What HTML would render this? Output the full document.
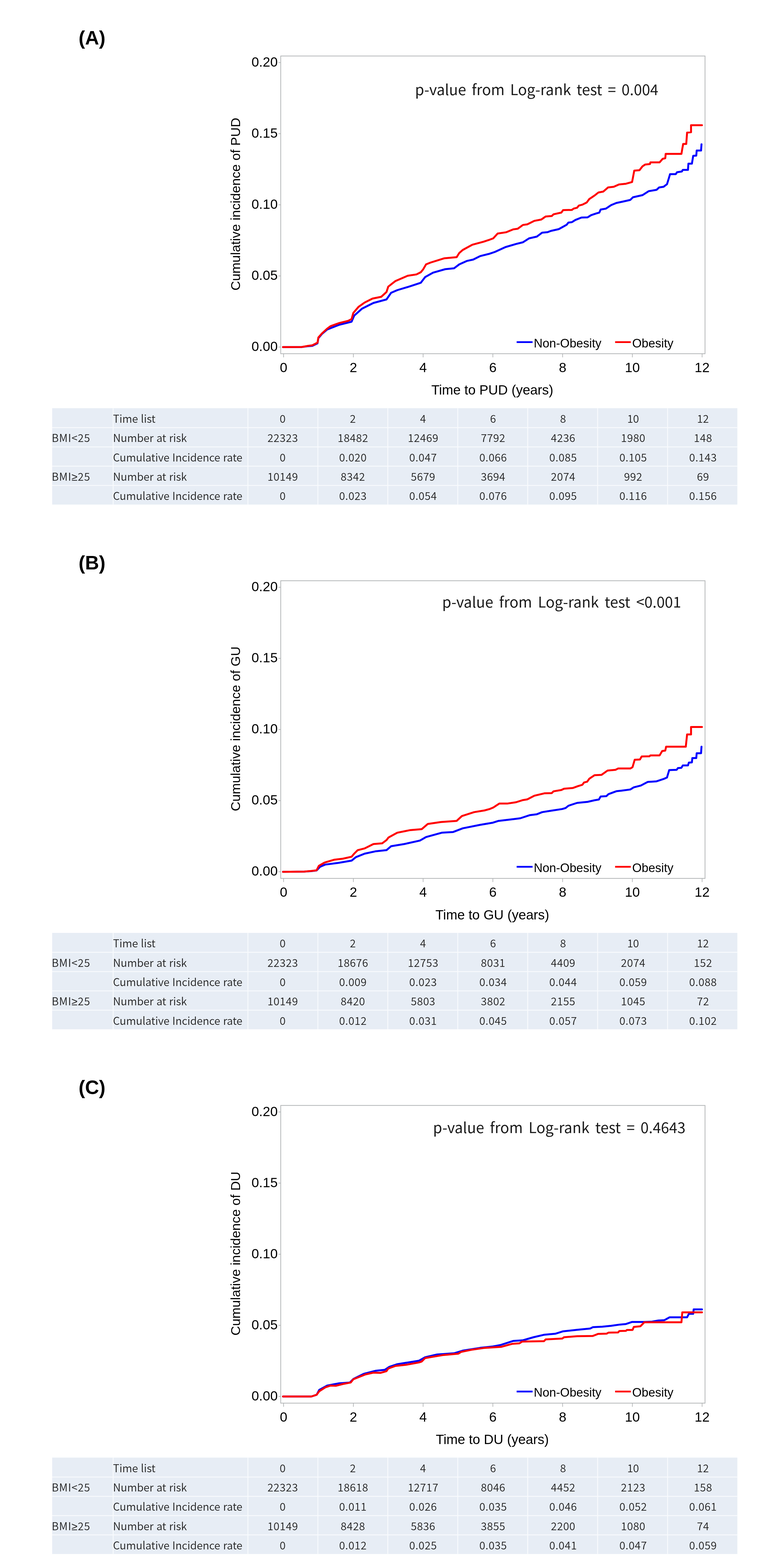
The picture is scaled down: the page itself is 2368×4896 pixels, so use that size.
<!DOCTYPE html><html><head><meta charset="utf-8"><title>Cumulative incidence</title><style>html,body{margin:0;padding:0;background:#fff;}svg{display:block;}</style></head><body>
<svg width="2368" height="4896" viewBox="0 0 2368 4896">
<rect width="2368" height="4896" fill="#fff"/>
<g transform="translate(0,0)">
<text x="245.5" y="139.3" font-family="'Liberation Sans', Arial, sans-serif" font-weight="bold" font-size="60.5" fill="#000">(A)</text>
<rect x="877" y="174.9" width="1325.5" height="929.5" fill="none" stroke="#b4b7b8" stroke-width="2.4"/>
<line x1="870" y1="195.3" x2="877" y2="195.3" stroke="#aeb1b2" stroke-width="2"/>
<text x="867.5" y="207.8" text-anchor="end" font-family="'Liberation Sans', Arial, sans-serif" font-size="42" fill="#000">0.20</text>
<line x1="870" y1="417.4" x2="877" y2="417.4" stroke="#aeb1b2" stroke-width="2"/>
<text x="867.5" y="429.9" text-anchor="end" font-family="'Liberation Sans', Arial, sans-serif" font-size="42" fill="#000">0.15</text>
<line x1="870" y1="639.5" x2="877" y2="639.5" stroke="#aeb1b2" stroke-width="2"/>
<text x="867.5" y="652" text-anchor="end" font-family="'Liberation Sans', Arial, sans-serif" font-size="42" fill="#000">0.10</text>
<line x1="870" y1="861.6" x2="877" y2="861.6" stroke="#aeb1b2" stroke-width="2"/>
<text x="867.5" y="874.1" text-anchor="end" font-family="'Liberation Sans', Arial, sans-serif" font-size="42" fill="#000">0.05</text>
<line x1="870" y1="1083.6" x2="877" y2="1083.6" stroke="#aeb1b2" stroke-width="2"/>
<text x="867.5" y="1096.1" text-anchor="end" font-family="'Liberation Sans', Arial, sans-serif" font-size="42" fill="#000">0.00</text>
<line x1="886" y1="1104.4" x2="886" y2="1115.8" stroke="#aeb1b2" stroke-width="2"/>
<text x="886" y="1162" text-anchor="middle" font-family="'Liberation Sans', Arial, sans-serif" font-size="42" fill="#000">0</text>
<line x1="1103.9" y1="1104.4" x2="1103.9" y2="1115.8" stroke="#aeb1b2" stroke-width="2"/>
<text x="1103.9" y="1162" text-anchor="middle" font-family="'Liberation Sans', Arial, sans-serif" font-size="42" fill="#000">2</text>
<line x1="1321.8" y1="1104.4" x2="1321.8" y2="1115.8" stroke="#aeb1b2" stroke-width="2"/>
<text x="1321.8" y="1162" text-anchor="middle" font-family="'Liberation Sans', Arial, sans-serif" font-size="42" fill="#000">4</text>
<line x1="1539.7" y1="1104.4" x2="1539.7" y2="1115.8" stroke="#aeb1b2" stroke-width="2"/>
<text x="1539.7" y="1162" text-anchor="middle" font-family="'Liberation Sans', Arial, sans-serif" font-size="42" fill="#000">6</text>
<line x1="1757.6" y1="1104.4" x2="1757.6" y2="1115.8" stroke="#aeb1b2" stroke-width="2"/>
<text x="1757.6" y="1162" text-anchor="middle" font-family="'Liberation Sans', Arial, sans-serif" font-size="42" fill="#000">8</text>
<line x1="1975.5" y1="1104.4" x2="1975.5" y2="1115.8" stroke="#aeb1b2" stroke-width="2"/>
<text x="1975.5" y="1162" text-anchor="middle" font-family="'Liberation Sans', Arial, sans-serif" font-size="42" fill="#000">10</text>
<line x1="2193.4" y1="1104.4" x2="2193.4" y2="1115.8" stroke="#aeb1b2" stroke-width="2"/>
<text x="2193.4" y="1162" text-anchor="middle" font-family="'Liberation Sans', Arial, sans-serif" font-size="42" fill="#000">12</text>
<text x="1538" y="1232.4" text-anchor="middle" font-family="'Liberation Sans', Arial, sans-serif" font-size="42" fill="#000">Time to PUD (years)</text>
<text transform="translate(749.8,637.4) rotate(-90)" x="0" y="0" text-anchor="middle" font-family="'Liberation Sans', Arial, sans-serif" font-size="41.5" fill="#000">Cumulative incidence of PUD</text>
<line x1="1614" y1="1068.2" x2="1663.8" y2="1068.2" stroke="#0000ff" stroke-width="5.5"/>
<text x="1667.5" y="1084.5" font-family="'Liberation Sans', Arial, sans-serif" font-size="38" fill="#000">Non-Obesity</text>
<line x1="1921.6" y1="1068.2" x2="1970.7" y2="1068.2" stroke="#ff0000" stroke-width="5.5"/>
<text x="1975" y="1084.5" font-family="'Liberation Sans', Arial, sans-serif" font-size="38" fill="#000">Obesity</text>
<rect x="163" y="1274.5" width="2140.5" height="301" fill="#e7edf5"/>
<rect x="163" y="1333.8" width="2140.5" height="2.8" fill="#f8fafd"/>
<rect x="163" y="1394" width="2140.5" height="2.8" fill="#f8fafd"/>
<rect x="163" y="1454.2" width="2140.5" height="2.8" fill="#f8fafd"/>
<rect x="163" y="1514.4" width="2140.5" height="2.8" fill="#f8fafd"/>
<rect x="352.1" y="1274.5" width="2.8" height="301" fill="#f8fafd"/>
<rect x="773.1" y="1274.5" width="2.8" height="301" fill="#f8fafd"/>
<rect x="991.6" y="1274.5" width="2.8" height="301" fill="#f8fafd"/>
<rect x="1210.1" y="1274.5" width="2.8" height="301" fill="#f8fafd"/>
<rect x="1428.6" y="1274.5" width="2.8" height="301" fill="#f8fafd"/>
<rect x="1647.1" y="1274.5" width="2.8" height="301" fill="#f8fafd"/>
<rect x="1865.6" y="1274.5" width="2.8" height="301" fill="#f8fafd"/>
<rect x="2084.1" y="1274.5" width="2.8" height="301" fill="#f8fafd"/>
<text x="353" y="1319.8" font-family="'Noto Sans CJK KR', 'Liberation Sans', sans-serif" font-size="33.5" font-weight="350" fill="#222" word-spacing="1.5">Time list</text>
<text x="353" y="1380.2" font-family="'Noto Sans CJK KR', 'Liberation Sans', sans-serif" font-size="33.5" font-weight="350" fill="#222" word-spacing="1.5">Number at risk</text>
<text x="353" y="1440.6" font-family="'Noto Sans CJK KR', 'Liberation Sans', sans-serif" font-size="33.5" font-weight="350" fill="#222" word-spacing="1.5">Cumulative Incidence rate</text>
<text x="353" y="1501" font-family="'Noto Sans CJK KR', 'Liberation Sans', sans-serif" font-size="33.5" font-weight="350" fill="#222" word-spacing="1.5">Number at risk</text>
<text x="353" y="1561.4" font-family="'Noto Sans CJK KR', 'Liberation Sans', sans-serif" font-size="33.5" font-weight="350" fill="#222" word-spacing="1.5">Cumulative Incidence rate</text>
<text x="161.5" y="1380.2" font-family="'Noto Sans CJK KR', 'Liberation Sans', sans-serif" font-size="33.5" font-weight="350" fill="#222" letter-spacing="1.2">BMI&lt;25</text>
<text x="161.5" y="1501" font-family="'Noto Sans CJK KR', 'Liberation Sans', sans-serif" font-size="33.5" font-weight="350" fill="#222" letter-spacing="1.2">BMI<tspan font-family="Liberation Sans, sans-serif">&#8805;</tspan>25</text>
<text x="883" y="1319.8" text-anchor="middle" font-family="'Noto Sans CJK KR', 'Liberation Sans', sans-serif" font-size="33.5" font-weight="350" fill="#222">0</text>
<text x="883.4" y="1380.2" text-anchor="middle" font-family="'Noto Sans CJK KR', 'Liberation Sans', sans-serif" font-size="33.5" font-weight="350" fill="#222" letter-spacing="0.8">22323</text>
<text x="883.4" y="1440.6" text-anchor="middle" font-family="'Noto Sans CJK KR', 'Liberation Sans', sans-serif" font-size="33.5" font-weight="350" fill="#222" letter-spacing="0.8">0</text>
<text x="883.4" y="1501" text-anchor="middle" font-family="'Noto Sans CJK KR', 'Liberation Sans', sans-serif" font-size="33.5" font-weight="350" fill="#222" letter-spacing="0.8">10149</text>
<text x="883.4" y="1561.4" text-anchor="middle" font-family="'Noto Sans CJK KR', 'Liberation Sans', sans-serif" font-size="33.5" font-weight="350" fill="#222" letter-spacing="0.8">0</text>
<text x="1102.3" y="1319.8" text-anchor="middle" font-family="'Noto Sans CJK KR', 'Liberation Sans', sans-serif" font-size="33.5" font-weight="350" fill="#222">2</text>
<text x="1102.7" y="1380.2" text-anchor="middle" font-family="'Noto Sans CJK KR', 'Liberation Sans', sans-serif" font-size="33.5" font-weight="350" fill="#222" letter-spacing="0.8">18482</text>
<text x="1102.7" y="1440.6" text-anchor="middle" font-family="'Noto Sans CJK KR', 'Liberation Sans', sans-serif" font-size="33.5" font-weight="350" fill="#222" letter-spacing="0.8">0.020</text>
<text x="1102.7" y="1501" text-anchor="middle" font-family="'Noto Sans CJK KR', 'Liberation Sans', sans-serif" font-size="33.5" font-weight="350" fill="#222" letter-spacing="0.8">8342</text>
<text x="1102.7" y="1561.4" text-anchor="middle" font-family="'Noto Sans CJK KR', 'Liberation Sans', sans-serif" font-size="33.5" font-weight="350" fill="#222" letter-spacing="0.8">0.023</text>
<text x="1321.5" y="1319.8" text-anchor="middle" font-family="'Noto Sans CJK KR', 'Liberation Sans', sans-serif" font-size="33.5" font-weight="350" fill="#222">4</text>
<text x="1321.9" y="1380.2" text-anchor="middle" font-family="'Noto Sans CJK KR', 'Liberation Sans', sans-serif" font-size="33.5" font-weight="350" fill="#222" letter-spacing="0.8">12469</text>
<text x="1321.9" y="1440.6" text-anchor="middle" font-family="'Noto Sans CJK KR', 'Liberation Sans', sans-serif" font-size="33.5" font-weight="350" fill="#222" letter-spacing="0.8">0.047</text>
<text x="1321.9" y="1501" text-anchor="middle" font-family="'Noto Sans CJK KR', 'Liberation Sans', sans-serif" font-size="33.5" font-weight="350" fill="#222" letter-spacing="0.8">5679</text>
<text x="1321.9" y="1561.4" text-anchor="middle" font-family="'Noto Sans CJK KR', 'Liberation Sans', sans-serif" font-size="33.5" font-weight="350" fill="#222" letter-spacing="0.8">0.054</text>
<text x="1540.3" y="1319.8" text-anchor="middle" font-family="'Noto Sans CJK KR', 'Liberation Sans', sans-serif" font-size="33.5" font-weight="350" fill="#222">6</text>
<text x="1540.7" y="1380.2" text-anchor="middle" font-family="'Noto Sans CJK KR', 'Liberation Sans', sans-serif" font-size="33.5" font-weight="350" fill="#222" letter-spacing="0.8">7792</text>
<text x="1540.7" y="1440.6" text-anchor="middle" font-family="'Noto Sans CJK KR', 'Liberation Sans', sans-serif" font-size="33.5" font-weight="350" fill="#222" letter-spacing="0.8">0.066</text>
<text x="1540.7" y="1501" text-anchor="middle" font-family="'Noto Sans CJK KR', 'Liberation Sans', sans-serif" font-size="33.5" font-weight="350" fill="#222" letter-spacing="0.8">3694</text>
<text x="1540.7" y="1561.4" text-anchor="middle" font-family="'Noto Sans CJK KR', 'Liberation Sans', sans-serif" font-size="33.5" font-weight="350" fill="#222" letter-spacing="0.8">0.076</text>
<text x="1759" y="1319.8" text-anchor="middle" font-family="'Noto Sans CJK KR', 'Liberation Sans', sans-serif" font-size="33.5" font-weight="350" fill="#222">8</text>
<text x="1759.4" y="1380.2" text-anchor="middle" font-family="'Noto Sans CJK KR', 'Liberation Sans', sans-serif" font-size="33.5" font-weight="350" fill="#222" letter-spacing="0.8">4236</text>
<text x="1759.4" y="1440.6" text-anchor="middle" font-family="'Noto Sans CJK KR', 'Liberation Sans', sans-serif" font-size="33.5" font-weight="350" fill="#222" letter-spacing="0.8">0.085</text>
<text x="1759.4" y="1501" text-anchor="middle" font-family="'Noto Sans CJK KR', 'Liberation Sans', sans-serif" font-size="33.5" font-weight="350" fill="#222" letter-spacing="0.8">2074</text>
<text x="1759.4" y="1561.4" text-anchor="middle" font-family="'Noto Sans CJK KR', 'Liberation Sans', sans-serif" font-size="33.5" font-weight="350" fill="#222" letter-spacing="0.8">0.095</text>
<text x="1977.8" y="1319.8" text-anchor="middle" font-family="'Noto Sans CJK KR', 'Liberation Sans', sans-serif" font-size="33.5" font-weight="350" fill="#222">10</text>
<text x="1978.2" y="1380.2" text-anchor="middle" font-family="'Noto Sans CJK KR', 'Liberation Sans', sans-serif" font-size="33.5" font-weight="350" fill="#222" letter-spacing="0.8">1980</text>
<text x="1978.2" y="1440.6" text-anchor="middle" font-family="'Noto Sans CJK KR', 'Liberation Sans', sans-serif" font-size="33.5" font-weight="350" fill="#222" letter-spacing="0.8">0.105</text>
<text x="1978.2" y="1501" text-anchor="middle" font-family="'Noto Sans CJK KR', 'Liberation Sans', sans-serif" font-size="33.5" font-weight="350" fill="#222" letter-spacing="0.8">992</text>
<text x="1978.2" y="1561.4" text-anchor="middle" font-family="'Noto Sans CJK KR', 'Liberation Sans', sans-serif" font-size="33.5" font-weight="350" fill="#222" letter-spacing="0.8">0.116</text>
<text x="2196" y="1319.8" text-anchor="middle" font-family="'Noto Sans CJK KR', 'Liberation Sans', sans-serif" font-size="33.5" font-weight="350" fill="#222">12</text>
<text x="2196.4" y="1380.2" text-anchor="middle" font-family="'Noto Sans CJK KR', 'Liberation Sans', sans-serif" font-size="33.5" font-weight="350" fill="#222" letter-spacing="0.8">148</text>
<text x="2196.4" y="1440.6" text-anchor="middle" font-family="'Noto Sans CJK KR', 'Liberation Sans', sans-serif" font-size="33.5" font-weight="350" fill="#222" letter-spacing="0.8">0.143</text>
<text x="2196.4" y="1501" text-anchor="middle" font-family="'Noto Sans CJK KR', 'Liberation Sans', sans-serif" font-size="33.5" font-weight="350" fill="#222" letter-spacing="0.8">69</text>
<text x="2196.4" y="1561.4" text-anchor="middle" font-family="'Noto Sans CJK KR', 'Liberation Sans', sans-serif" font-size="33.5" font-weight="350" fill="#222" letter-spacing="0.8">0.156</text>
</g>
<text x="1296.5" y="297.4" font-family="'Noto Sans CJK KR', 'Liberation Sans', sans-serif" font-size="46" font-weight="400" fill="#1a1a1a" word-spacing="7.1">p-value from Log-rank test = 0.004</text>
<polyline points="884,1083.7 942.8,1083.5 961.8,1081 975.5,1080 991.9,1072 994.6,1056 1005.5,1043 1021.9,1029 1060,1014 1098.3,1004.6 1106.5,985.5 1131,963.7 1166.5,946 1207.4,935 1221.8,914.2 1241,906 1281.9,893.7 1314.6,882.8 1328.2,865.1 1352.8,851.4 1391,840.5 1418.3,837.8 1434.7,825.5 1459.2,814.6 1478.3,810.5 1500.1,799.6 1527.4,792.8 1546.4,786.5 1579.1,771.5 1611.9,761.9 1633.7,756.5 1652.8,744.2 1677.3,738.7 1693.7,726.4 1710.1,725.1 1721,721 1745.5,715.5 1770.1,701.9 1775.6,695.1 1786.5,693.7 1797.4,686.9 1816.5,679.2 1835.6,678.7 1846.5,671.9 1862.9,666.4 1872.3,663.8 1876.4,654.2 1892.7,651.5 1909.1,640.6 1925.5,633.8 1944.6,629.7 1969.1,624.2 1977.3,616 2007.3,609.2 2026.4,596.9 2051,592.8 2059.2,585.2 2072.8,583.3 2083.7,575.1 2089.2,557.4 2093.3,543.7 2111,543.7 2115.1,537.7 2130.1,535.5 2132.9,530.6 2149.2,530.6 2150.6,511 2161.5,511 2165.6,486.4 2175.1,485.9 2176.5,470 2190.1,470 2191.5,450.4" fill="none" stroke="#0000ff" stroke-width="6" stroke-linejoin="round" stroke-linecap="round"/>
<polyline points="884,1083.7 942.8,1083.5 961.8,1080 975.5,1078.3 991.9,1070 994.6,1053.7 1005.5,1041.4 1021.9,1026.4 1032.8,1018.3 1060,1008.7 1087.4,1001.9 1098.3,996.4 1103.7,977.3 1120,958.2 1139.2,944.6 1163.8,932.3 1191,926.8 1207.4,911.8 1212.9,895 1235.5,877.4 1273.7,861 1301,856.9 1314.6,850 1321.4,841.9 1331,825.5 1344.6,820 1388.3,806.4 1426.5,803.1 1434.7,790 1445.6,780.5 1475.6,764.1 1511,754.6 1530,748.3 1540.9,744.2 1554.6,729.2 1581.8,725.1 1603.7,716.1 1617.3,714.2 1633.7,702.4 1647.3,700.5 1669.2,689.6 1691,685.5 1704.6,676 1723.7,674.6 1729.2,669.1 1753.7,663.7 1759.2,656 1786.5,655.5 1792,651.4 1802.9,648.7 1808.3,641.9 1819.2,639.1 1832.9,632.3 1841,621.4 1857.4,610.5 1869.5,601 1884.6,598.3 1899.6,585.2 1917.3,583.3 1933.7,575.9 1955.5,573.7 1974.6,568.3 1977.3,554.6 1981.4,532.8 1997.8,531.4 2007.3,519.2 2015.5,513.7 2030.5,512.3 2031.9,506.9 2060.5,506.9 2070.1,496 2078.3,494 2079.6,480.4 2128.8,480.4 2131.5,464.6 2134.2,449.6 2143.8,449.6 2146.5,414.1 2158.8,412.7 2158.8,390.9 2192.9,390.9" fill="none" stroke="#ff0000" stroke-width="6" stroke-linejoin="round" stroke-linecap="round"/>
<g transform="translate(0,1638.4)">
<text x="245.5" y="139.3" font-family="'Liberation Sans', Arial, sans-serif" font-weight="bold" font-size="60.5" fill="#000">(B)</text>
<rect x="877" y="174.9" width="1325.5" height="929.5" fill="none" stroke="#b4b7b8" stroke-width="2.4"/>
<line x1="870" y1="195.3" x2="877" y2="195.3" stroke="#aeb1b2" stroke-width="2"/>
<text x="867.5" y="207.8" text-anchor="end" font-family="'Liberation Sans', Arial, sans-serif" font-size="42" fill="#000">0.20</text>
<line x1="870" y1="417.4" x2="877" y2="417.4" stroke="#aeb1b2" stroke-width="2"/>
<text x="867.5" y="429.9" text-anchor="end" font-family="'Liberation Sans', Arial, sans-serif" font-size="42" fill="#000">0.15</text>
<line x1="870" y1="639.5" x2="877" y2="639.5" stroke="#aeb1b2" stroke-width="2"/>
<text x="867.5" y="652" text-anchor="end" font-family="'Liberation Sans', Arial, sans-serif" font-size="42" fill="#000">0.10</text>
<line x1="870" y1="861.6" x2="877" y2="861.6" stroke="#aeb1b2" stroke-width="2"/>
<text x="867.5" y="874.1" text-anchor="end" font-family="'Liberation Sans', Arial, sans-serif" font-size="42" fill="#000">0.05</text>
<line x1="870" y1="1083.6" x2="877" y2="1083.6" stroke="#aeb1b2" stroke-width="2"/>
<text x="867.5" y="1096.1" text-anchor="end" font-family="'Liberation Sans', Arial, sans-serif" font-size="42" fill="#000">0.00</text>
<line x1="886" y1="1104.4" x2="886" y2="1115.8" stroke="#aeb1b2" stroke-width="2"/>
<text x="886" y="1162" text-anchor="middle" font-family="'Liberation Sans', Arial, sans-serif" font-size="42" fill="#000">0</text>
<line x1="1103.9" y1="1104.4" x2="1103.9" y2="1115.8" stroke="#aeb1b2" stroke-width="2"/>
<text x="1103.9" y="1162" text-anchor="middle" font-family="'Liberation Sans', Arial, sans-serif" font-size="42" fill="#000">2</text>
<line x1="1321.8" y1="1104.4" x2="1321.8" y2="1115.8" stroke="#aeb1b2" stroke-width="2"/>
<text x="1321.8" y="1162" text-anchor="middle" font-family="'Liberation Sans', Arial, sans-serif" font-size="42" fill="#000">4</text>
<line x1="1539.7" y1="1104.4" x2="1539.7" y2="1115.8" stroke="#aeb1b2" stroke-width="2"/>
<text x="1539.7" y="1162" text-anchor="middle" font-family="'Liberation Sans', Arial, sans-serif" font-size="42" fill="#000">6</text>
<line x1="1757.6" y1="1104.4" x2="1757.6" y2="1115.8" stroke="#aeb1b2" stroke-width="2"/>
<text x="1757.6" y="1162" text-anchor="middle" font-family="'Liberation Sans', Arial, sans-serif" font-size="42" fill="#000">8</text>
<line x1="1975.5" y1="1104.4" x2="1975.5" y2="1115.8" stroke="#aeb1b2" stroke-width="2"/>
<text x="1975.5" y="1162" text-anchor="middle" font-family="'Liberation Sans', Arial, sans-serif" font-size="42" fill="#000">10</text>
<line x1="2193.4" y1="1104.4" x2="2193.4" y2="1115.8" stroke="#aeb1b2" stroke-width="2"/>
<text x="2193.4" y="1162" text-anchor="middle" font-family="'Liberation Sans', Arial, sans-serif" font-size="42" fill="#000">12</text>
<text x="1538" y="1232.4" text-anchor="middle" font-family="'Liberation Sans', Arial, sans-serif" font-size="42" fill="#000">Time to GU (years)</text>
<text transform="translate(749.8,637.4) rotate(-90)" x="0" y="0" text-anchor="middle" font-family="'Liberation Sans', Arial, sans-serif" font-size="41.5" fill="#000">Cumulative incidence of GU</text>
<line x1="1614" y1="1068.2" x2="1663.8" y2="1068.2" stroke="#0000ff" stroke-width="5.5"/>
<text x="1667.5" y="1084.5" font-family="'Liberation Sans', Arial, sans-serif" font-size="38" fill="#000">Non-Obesity</text>
<line x1="1921.6" y1="1068.2" x2="1970.7" y2="1068.2" stroke="#ff0000" stroke-width="5.5"/>
<text x="1975" y="1084.5" font-family="'Liberation Sans', Arial, sans-serif" font-size="38" fill="#000">Obesity</text>
<rect x="163" y="1274.5" width="2140.5" height="301" fill="#e7edf5"/>
<rect x="163" y="1333.8" width="2140.5" height="2.8" fill="#f8fafd"/>
<rect x="163" y="1394" width="2140.5" height="2.8" fill="#f8fafd"/>
<rect x="163" y="1454.2" width="2140.5" height="2.8" fill="#f8fafd"/>
<rect x="163" y="1514.4" width="2140.5" height="2.8" fill="#f8fafd"/>
<rect x="352.1" y="1274.5" width="2.8" height="301" fill="#f8fafd"/>
<rect x="773.1" y="1274.5" width="2.8" height="301" fill="#f8fafd"/>
<rect x="991.6" y="1274.5" width="2.8" height="301" fill="#f8fafd"/>
<rect x="1210.1" y="1274.5" width="2.8" height="301" fill="#f8fafd"/>
<rect x="1428.6" y="1274.5" width="2.8" height="301" fill="#f8fafd"/>
<rect x="1647.1" y="1274.5" width="2.8" height="301" fill="#f8fafd"/>
<rect x="1865.6" y="1274.5" width="2.8" height="301" fill="#f8fafd"/>
<rect x="2084.1" y="1274.5" width="2.8" height="301" fill="#f8fafd"/>
<text x="353" y="1319.8" font-family="'Noto Sans CJK KR', 'Liberation Sans', sans-serif" font-size="33.5" font-weight="350" fill="#222" word-spacing="1.5">Time list</text>
<text x="353" y="1380.2" font-family="'Noto Sans CJK KR', 'Liberation Sans', sans-serif" font-size="33.5" font-weight="350" fill="#222" word-spacing="1.5">Number at risk</text>
<text x="353" y="1440.6" font-family="'Noto Sans CJK KR', 'Liberation Sans', sans-serif" font-size="33.5" font-weight="350" fill="#222" word-spacing="1.5">Cumulative Incidence rate</text>
<text x="353" y="1501" font-family="'Noto Sans CJK KR', 'Liberation Sans', sans-serif" font-size="33.5" font-weight="350" fill="#222" word-spacing="1.5">Number at risk</text>
<text x="353" y="1561.4" font-family="'Noto Sans CJK KR', 'Liberation Sans', sans-serif" font-size="33.5" font-weight="350" fill="#222" word-spacing="1.5">Cumulative Incidence rate</text>
<text x="161.5" y="1380.2" font-family="'Noto Sans CJK KR', 'Liberation Sans', sans-serif" font-size="33.5" font-weight="350" fill="#222" letter-spacing="1.2">BMI&lt;25</text>
<text x="161.5" y="1501" font-family="'Noto Sans CJK KR', 'Liberation Sans', sans-serif" font-size="33.5" font-weight="350" fill="#222" letter-spacing="1.2">BMI<tspan font-family="Liberation Sans, sans-serif">&#8805;</tspan>25</text>
<text x="883" y="1319.8" text-anchor="middle" font-family="'Noto Sans CJK KR', 'Liberation Sans', sans-serif" font-size="33.5" font-weight="350" fill="#222">0</text>
<text x="883.4" y="1380.2" text-anchor="middle" font-family="'Noto Sans CJK KR', 'Liberation Sans', sans-serif" font-size="33.5" font-weight="350" fill="#222" letter-spacing="0.8">22323</text>
<text x="883.4" y="1440.6" text-anchor="middle" font-family="'Noto Sans CJK KR', 'Liberation Sans', sans-serif" font-size="33.5" font-weight="350" fill="#222" letter-spacing="0.8">0</text>
<text x="883.4" y="1501" text-anchor="middle" font-family="'Noto Sans CJK KR', 'Liberation Sans', sans-serif" font-size="33.5" font-weight="350" fill="#222" letter-spacing="0.8">10149</text>
<text x="883.4" y="1561.4" text-anchor="middle" font-family="'Noto Sans CJK KR', 'Liberation Sans', sans-serif" font-size="33.5" font-weight="350" fill="#222" letter-spacing="0.8">0</text>
<text x="1102.3" y="1319.8" text-anchor="middle" font-family="'Noto Sans CJK KR', 'Liberation Sans', sans-serif" font-size="33.5" font-weight="350" fill="#222">2</text>
<text x="1102.7" y="1380.2" text-anchor="middle" font-family="'Noto Sans CJK KR', 'Liberation Sans', sans-serif" font-size="33.5" font-weight="350" fill="#222" letter-spacing="0.8">18676</text>
<text x="1102.7" y="1440.6" text-anchor="middle" font-family="'Noto Sans CJK KR', 'Liberation Sans', sans-serif" font-size="33.5" font-weight="350" fill="#222" letter-spacing="0.8">0.009</text>
<text x="1102.7" y="1501" text-anchor="middle" font-family="'Noto Sans CJK KR', 'Liberation Sans', sans-serif" font-size="33.5" font-weight="350" fill="#222" letter-spacing="0.8">8420</text>
<text x="1102.7" y="1561.4" text-anchor="middle" font-family="'Noto Sans CJK KR', 'Liberation Sans', sans-serif" font-size="33.5" font-weight="350" fill="#222" letter-spacing="0.8">0.012</text>
<text x="1321.5" y="1319.8" text-anchor="middle" font-family="'Noto Sans CJK KR', 'Liberation Sans', sans-serif" font-size="33.5" font-weight="350" fill="#222">4</text>
<text x="1321.9" y="1380.2" text-anchor="middle" font-family="'Noto Sans CJK KR', 'Liberation Sans', sans-serif" font-size="33.5" font-weight="350" fill="#222" letter-spacing="0.8">12753</text>
<text x="1321.9" y="1440.6" text-anchor="middle" font-family="'Noto Sans CJK KR', 'Liberation Sans', sans-serif" font-size="33.5" font-weight="350" fill="#222" letter-spacing="0.8">0.023</text>
<text x="1321.9" y="1501" text-anchor="middle" font-family="'Noto Sans CJK KR', 'Liberation Sans', sans-serif" font-size="33.5" font-weight="350" fill="#222" letter-spacing="0.8">5803</text>
<text x="1321.9" y="1561.4" text-anchor="middle" font-family="'Noto Sans CJK KR', 'Liberation Sans', sans-serif" font-size="33.5" font-weight="350" fill="#222" letter-spacing="0.8">0.031</text>
<text x="1540.3" y="1319.8" text-anchor="middle" font-family="'Noto Sans CJK KR', 'Liberation Sans', sans-serif" font-size="33.5" font-weight="350" fill="#222">6</text>
<text x="1540.7" y="1380.2" text-anchor="middle" font-family="'Noto Sans CJK KR', 'Liberation Sans', sans-serif" font-size="33.5" font-weight="350" fill="#222" letter-spacing="0.8">8031</text>
<text x="1540.7" y="1440.6" text-anchor="middle" font-family="'Noto Sans CJK KR', 'Liberation Sans', sans-serif" font-size="33.5" font-weight="350" fill="#222" letter-spacing="0.8">0.034</text>
<text x="1540.7" y="1501" text-anchor="middle" font-family="'Noto Sans CJK KR', 'Liberation Sans', sans-serif" font-size="33.5" font-weight="350" fill="#222" letter-spacing="0.8">3802</text>
<text x="1540.7" y="1561.4" text-anchor="middle" font-family="'Noto Sans CJK KR', 'Liberation Sans', sans-serif" font-size="33.5" font-weight="350" fill="#222" letter-spacing="0.8">0.045</text>
<text x="1759" y="1319.8" text-anchor="middle" font-family="'Noto Sans CJK KR', 'Liberation Sans', sans-serif" font-size="33.5" font-weight="350" fill="#222">8</text>
<text x="1759.4" y="1380.2" text-anchor="middle" font-family="'Noto Sans CJK KR', 'Liberation Sans', sans-serif" font-size="33.5" font-weight="350" fill="#222" letter-spacing="0.8">4409</text>
<text x="1759.4" y="1440.6" text-anchor="middle" font-family="'Noto Sans CJK KR', 'Liberation Sans', sans-serif" font-size="33.5" font-weight="350" fill="#222" letter-spacing="0.8">0.044</text>
<text x="1759.4" y="1501" text-anchor="middle" font-family="'Noto Sans CJK KR', 'Liberation Sans', sans-serif" font-size="33.5" font-weight="350" fill="#222" letter-spacing="0.8">2155</text>
<text x="1759.4" y="1561.4" text-anchor="middle" font-family="'Noto Sans CJK KR', 'Liberation Sans', sans-serif" font-size="33.5" font-weight="350" fill="#222" letter-spacing="0.8">0.057</text>
<text x="1977.8" y="1319.8" text-anchor="middle" font-family="'Noto Sans CJK KR', 'Liberation Sans', sans-serif" font-size="33.5" font-weight="350" fill="#222">10</text>
<text x="1978.2" y="1380.2" text-anchor="middle" font-family="'Noto Sans CJK KR', 'Liberation Sans', sans-serif" font-size="33.5" font-weight="350" fill="#222" letter-spacing="0.8">2074</text>
<text x="1978.2" y="1440.6" text-anchor="middle" font-family="'Noto Sans CJK KR', 'Liberation Sans', sans-serif" font-size="33.5" font-weight="350" fill="#222" letter-spacing="0.8">0.059</text>
<text x="1978.2" y="1501" text-anchor="middle" font-family="'Noto Sans CJK KR', 'Liberation Sans', sans-serif" font-size="33.5" font-weight="350" fill="#222" letter-spacing="0.8">1045</text>
<text x="1978.2" y="1561.4" text-anchor="middle" font-family="'Noto Sans CJK KR', 'Liberation Sans', sans-serif" font-size="33.5" font-weight="350" fill="#222" letter-spacing="0.8">0.073</text>
<text x="2196" y="1319.8" text-anchor="middle" font-family="'Noto Sans CJK KR', 'Liberation Sans', sans-serif" font-size="33.5" font-weight="350" fill="#222">12</text>
<text x="2196.4" y="1380.2" text-anchor="middle" font-family="'Noto Sans CJK KR', 'Liberation Sans', sans-serif" font-size="33.5" font-weight="350" fill="#222" letter-spacing="0.8">152</text>
<text x="2196.4" y="1440.6" text-anchor="middle" font-family="'Noto Sans CJK KR', 'Liberation Sans', sans-serif" font-size="33.5" font-weight="350" fill="#222" letter-spacing="0.8">0.088</text>
<text x="2196.4" y="1501" text-anchor="middle" font-family="'Noto Sans CJK KR', 'Liberation Sans', sans-serif" font-size="33.5" font-weight="350" fill="#222" letter-spacing="0.8">72</text>
<text x="2196.4" y="1561.4" text-anchor="middle" font-family="'Noto Sans CJK KR', 'Liberation Sans', sans-serif" font-size="33.5" font-weight="350" fill="#222" letter-spacing="0.8">0.102</text>
</g>
<text x="1381.2" y="1897" font-family="'Noto Sans CJK KR', 'Liberation Sans', sans-serif" font-size="46" font-weight="400" fill="#1a1a1a" word-spacing="8.1">p-value from Log-rank test <0.001</text>
<polyline points="884.1,2722.3 950.9,2721.6 972.8,2720 989.1,2718 1000,2706.4 1016.4,2699.6 1057.4,2694.2 1098.3,2687.3 1111.9,2676.4 1139.2,2665.5 1174.7,2657.9 1207.4,2654.6 1221.8,2642.3 1262.8,2635.5 1311.9,2624.6 1331,2613.7 1380.1,2600.1 1415.6,2597.9 1445.6,2586.4 1500.1,2575.5 1540,2568.7 1557.3,2563.2 1603.7,2557.7 1625.5,2555 1655.5,2545.2 1677.3,2542.4 1693.7,2535.9 1721,2531.5 1756.5,2526.1 1767.4,2522.8 1775.6,2516 1802.9,2507 1835.6,2503.7 1857.4,2498.8 1870.9,2496.5 1876.4,2486.9 1894.1,2486.1 1900.9,2479.6 1925.5,2470.6 1941.9,2468.7 1969.1,2465.1 1980.1,2458.3 2001.9,2452.8 2023.7,2441.4 2051,2439.7 2072.8,2432.4 2083.7,2427.7 2090.6,2404.5 2113.8,2403.7 2117.8,2398.3 2128.8,2397.4 2132.9,2390.1 2149.2,2390.1 2151.9,2381.3 2161.5,2380.5 2162.9,2366.9 2175.1,2366.9 2176.5,2351.9 2190.1,2351.9 2191.5,2331.4" fill="none" stroke="#0000ff" stroke-width="6" stroke-linejoin="round" stroke-linecap="round"/>
<polyline points="884.1,2722.3 950.9,2721.4 972.8,2719.5 989.1,2717.4 996,2703.7 1013.7,2693.3 1043.7,2684.6 1071,2681.3 1098.3,2675.1 1106.5,2665.5 1117.4,2654.6 1139.2,2649.1 1166.5,2635.5 1193.8,2633.3 1207.4,2623.2 1213.6,2615.1 1240.9,2600.1 1281.9,2591.9 1317.3,2589.1 1336.4,2572.8 1377.4,2566.8 1426.5,2563.2 1442.8,2548.2 1481,2535.9 1513.8,2530.5 1530,2526.1 1540.9,2521.4 1560,2509.1 1584.6,2509.1 1611.9,2505 1633.7,2498.2 1647.3,2496 1669.2,2484.6 1701.9,2476.9 1723.7,2476.4 1729.2,2470.9 1753.7,2466.8 1761.9,2462.8 1789.2,2460.6 1805.6,2454.6 1819.2,2450.5 1824.7,2443.1 1834.2,2440.9 1841,2431.4 1857.4,2420.5 1879.1,2419.5 1898.2,2405.9 1922.8,2403.7 1930.9,2399.6 1969.1,2399.6 1976,2395.5 1982.8,2372.3 1999.2,2371.5 2004.6,2362 2029.2,2361.4 2031.9,2358.7 2060.5,2358.7 2068.7,2345 2078.3,2343.7 2081,2331.4 2142.4,2331.4 2146.5,2293.2 2158.8,2293.2 2158.8,2270 2192.9,2270" fill="none" stroke="#ff0000" stroke-width="6" stroke-linejoin="round" stroke-linecap="round"/>
<g transform="translate(0,3276.8)">
<text x="245.5" y="139.3" font-family="'Liberation Sans', Arial, sans-serif" font-weight="bold" font-size="60.5" fill="#000">(C)</text>
<rect x="877" y="174.9" width="1325.5" height="929.5" fill="none" stroke="#b4b7b8" stroke-width="2.4"/>
<line x1="870" y1="195.3" x2="877" y2="195.3" stroke="#aeb1b2" stroke-width="2"/>
<text x="867.5" y="207.8" text-anchor="end" font-family="'Liberation Sans', Arial, sans-serif" font-size="42" fill="#000">0.20</text>
<line x1="870" y1="417.4" x2="877" y2="417.4" stroke="#aeb1b2" stroke-width="2"/>
<text x="867.5" y="429.9" text-anchor="end" font-family="'Liberation Sans', Arial, sans-serif" font-size="42" fill="#000">0.15</text>
<line x1="870" y1="639.5" x2="877" y2="639.5" stroke="#aeb1b2" stroke-width="2"/>
<text x="867.5" y="652" text-anchor="end" font-family="'Liberation Sans', Arial, sans-serif" font-size="42" fill="#000">0.10</text>
<line x1="870" y1="861.6" x2="877" y2="861.6" stroke="#aeb1b2" stroke-width="2"/>
<text x="867.5" y="874.1" text-anchor="end" font-family="'Liberation Sans', Arial, sans-serif" font-size="42" fill="#000">0.05</text>
<line x1="870" y1="1083.6" x2="877" y2="1083.6" stroke="#aeb1b2" stroke-width="2"/>
<text x="867.5" y="1096.1" text-anchor="end" font-family="'Liberation Sans', Arial, sans-serif" font-size="42" fill="#000">0.00</text>
<line x1="886" y1="1104.4" x2="886" y2="1115.8" stroke="#aeb1b2" stroke-width="2"/>
<text x="886" y="1162" text-anchor="middle" font-family="'Liberation Sans', Arial, sans-serif" font-size="42" fill="#000">0</text>
<line x1="1103.9" y1="1104.4" x2="1103.9" y2="1115.8" stroke="#aeb1b2" stroke-width="2"/>
<text x="1103.9" y="1162" text-anchor="middle" font-family="'Liberation Sans', Arial, sans-serif" font-size="42" fill="#000">2</text>
<line x1="1321.8" y1="1104.4" x2="1321.8" y2="1115.8" stroke="#aeb1b2" stroke-width="2"/>
<text x="1321.8" y="1162" text-anchor="middle" font-family="'Liberation Sans', Arial, sans-serif" font-size="42" fill="#000">4</text>
<line x1="1539.7" y1="1104.4" x2="1539.7" y2="1115.8" stroke="#aeb1b2" stroke-width="2"/>
<text x="1539.7" y="1162" text-anchor="middle" font-family="'Liberation Sans', Arial, sans-serif" font-size="42" fill="#000">6</text>
<line x1="1757.6" y1="1104.4" x2="1757.6" y2="1115.8" stroke="#aeb1b2" stroke-width="2"/>
<text x="1757.6" y="1162" text-anchor="middle" font-family="'Liberation Sans', Arial, sans-serif" font-size="42" fill="#000">8</text>
<line x1="1975.5" y1="1104.4" x2="1975.5" y2="1115.8" stroke="#aeb1b2" stroke-width="2"/>
<text x="1975.5" y="1162" text-anchor="middle" font-family="'Liberation Sans', Arial, sans-serif" font-size="42" fill="#000">10</text>
<line x1="2193.4" y1="1104.4" x2="2193.4" y2="1115.8" stroke="#aeb1b2" stroke-width="2"/>
<text x="2193.4" y="1162" text-anchor="middle" font-family="'Liberation Sans', Arial, sans-serif" font-size="42" fill="#000">12</text>
<text x="1538" y="1232.4" text-anchor="middle" font-family="'Liberation Sans', Arial, sans-serif" font-size="42" fill="#000">Time to DU (years)</text>
<text transform="translate(749.8,637.4) rotate(-90)" x="0" y="0" text-anchor="middle" font-family="'Liberation Sans', Arial, sans-serif" font-size="41.5" fill="#000">Cumulative incidence of DU</text>
<line x1="1614" y1="1068.2" x2="1663.8" y2="1068.2" stroke="#0000ff" stroke-width="5.5"/>
<text x="1667.5" y="1084.5" font-family="'Liberation Sans', Arial, sans-serif" font-size="38" fill="#000">Non-Obesity</text>
<line x1="1921.6" y1="1068.2" x2="1970.7" y2="1068.2" stroke="#ff0000" stroke-width="5.5"/>
<text x="1975" y="1084.5" font-family="'Liberation Sans', Arial, sans-serif" font-size="38" fill="#000">Obesity</text>
<rect x="163" y="1274.5" width="2140.5" height="301" fill="#e7edf5"/>
<rect x="163" y="1333.8" width="2140.5" height="2.8" fill="#f8fafd"/>
<rect x="163" y="1394" width="2140.5" height="2.8" fill="#f8fafd"/>
<rect x="163" y="1454.2" width="2140.5" height="2.8" fill="#f8fafd"/>
<rect x="163" y="1514.4" width="2140.5" height="2.8" fill="#f8fafd"/>
<rect x="352.1" y="1274.5" width="2.8" height="301" fill="#f8fafd"/>
<rect x="773.1" y="1274.5" width="2.8" height="301" fill="#f8fafd"/>
<rect x="991.6" y="1274.5" width="2.8" height="301" fill="#f8fafd"/>
<rect x="1210.1" y="1274.5" width="2.8" height="301" fill="#f8fafd"/>
<rect x="1428.6" y="1274.5" width="2.8" height="301" fill="#f8fafd"/>
<rect x="1647.1" y="1274.5" width="2.8" height="301" fill="#f8fafd"/>
<rect x="1865.6" y="1274.5" width="2.8" height="301" fill="#f8fafd"/>
<rect x="2084.1" y="1274.5" width="2.8" height="301" fill="#f8fafd"/>
<text x="353" y="1319.8" font-family="'Noto Sans CJK KR', 'Liberation Sans', sans-serif" font-size="33.5" font-weight="350" fill="#222" word-spacing="1.5">Time list</text>
<text x="353" y="1380.2" font-family="'Noto Sans CJK KR', 'Liberation Sans', sans-serif" font-size="33.5" font-weight="350" fill="#222" word-spacing="1.5">Number at risk</text>
<text x="353" y="1440.6" font-family="'Noto Sans CJK KR', 'Liberation Sans', sans-serif" font-size="33.5" font-weight="350" fill="#222" word-spacing="1.5">Cumulative Incidence rate</text>
<text x="353" y="1501" font-family="'Noto Sans CJK KR', 'Liberation Sans', sans-serif" font-size="33.5" font-weight="350" fill="#222" word-spacing="1.5">Number at risk</text>
<text x="353" y="1561.4" font-family="'Noto Sans CJK KR', 'Liberation Sans', sans-serif" font-size="33.5" font-weight="350" fill="#222" word-spacing="1.5">Cumulative Incidence rate</text>
<text x="161.5" y="1380.2" font-family="'Noto Sans CJK KR', 'Liberation Sans', sans-serif" font-size="33.5" font-weight="350" fill="#222" letter-spacing="1.2">BMI&lt;25</text>
<text x="161.5" y="1501" font-family="'Noto Sans CJK KR', 'Liberation Sans', sans-serif" font-size="33.5" font-weight="350" fill="#222" letter-spacing="1.2">BMI<tspan font-family="Liberation Sans, sans-serif">&#8805;</tspan>25</text>
<text x="883" y="1319.8" text-anchor="middle" font-family="'Noto Sans CJK KR', 'Liberation Sans', sans-serif" font-size="33.5" font-weight="350" fill="#222">0</text>
<text x="883.4" y="1380.2" text-anchor="middle" font-family="'Noto Sans CJK KR', 'Liberation Sans', sans-serif" font-size="33.5" font-weight="350" fill="#222" letter-spacing="0.8">22323</text>
<text x="883.4" y="1440.6" text-anchor="middle" font-family="'Noto Sans CJK KR', 'Liberation Sans', sans-serif" font-size="33.5" font-weight="350" fill="#222" letter-spacing="0.8">0</text>
<text x="883.4" y="1501" text-anchor="middle" font-family="'Noto Sans CJK KR', 'Liberation Sans', sans-serif" font-size="33.5" font-weight="350" fill="#222" letter-spacing="0.8">10149</text>
<text x="883.4" y="1561.4" text-anchor="middle" font-family="'Noto Sans CJK KR', 'Liberation Sans', sans-serif" font-size="33.5" font-weight="350" fill="#222" letter-spacing="0.8">0</text>
<text x="1102.3" y="1319.8" text-anchor="middle" font-family="'Noto Sans CJK KR', 'Liberation Sans', sans-serif" font-size="33.5" font-weight="350" fill="#222">2</text>
<text x="1102.7" y="1380.2" text-anchor="middle" font-family="'Noto Sans CJK KR', 'Liberation Sans', sans-serif" font-size="33.5" font-weight="350" fill="#222" letter-spacing="0.8">18618</text>
<text x="1102.7" y="1440.6" text-anchor="middle" font-family="'Noto Sans CJK KR', 'Liberation Sans', sans-serif" font-size="33.5" font-weight="350" fill="#222" letter-spacing="0.8">0.011</text>
<text x="1102.7" y="1501" text-anchor="middle" font-family="'Noto Sans CJK KR', 'Liberation Sans', sans-serif" font-size="33.5" font-weight="350" fill="#222" letter-spacing="0.8">8428</text>
<text x="1102.7" y="1561.4" text-anchor="middle" font-family="'Noto Sans CJK KR', 'Liberation Sans', sans-serif" font-size="33.5" font-weight="350" fill="#222" letter-spacing="0.8">0.012</text>
<text x="1321.5" y="1319.8" text-anchor="middle" font-family="'Noto Sans CJK KR', 'Liberation Sans', sans-serif" font-size="33.5" font-weight="350" fill="#222">4</text>
<text x="1321.9" y="1380.2" text-anchor="middle" font-family="'Noto Sans CJK KR', 'Liberation Sans', sans-serif" font-size="33.5" font-weight="350" fill="#222" letter-spacing="0.8">12717</text>
<text x="1321.9" y="1440.6" text-anchor="middle" font-family="'Noto Sans CJK KR', 'Liberation Sans', sans-serif" font-size="33.5" font-weight="350" fill="#222" letter-spacing="0.8">0.026</text>
<text x="1321.9" y="1501" text-anchor="middle" font-family="'Noto Sans CJK KR', 'Liberation Sans', sans-serif" font-size="33.5" font-weight="350" fill="#222" letter-spacing="0.8">5836</text>
<text x="1321.9" y="1561.4" text-anchor="middle" font-family="'Noto Sans CJK KR', 'Liberation Sans', sans-serif" font-size="33.5" font-weight="350" fill="#222" letter-spacing="0.8">0.025</text>
<text x="1540.3" y="1319.8" text-anchor="middle" font-family="'Noto Sans CJK KR', 'Liberation Sans', sans-serif" font-size="33.5" font-weight="350" fill="#222">6</text>
<text x="1540.7" y="1380.2" text-anchor="middle" font-family="'Noto Sans CJK KR', 'Liberation Sans', sans-serif" font-size="33.5" font-weight="350" fill="#222" letter-spacing="0.8">8046</text>
<text x="1540.7" y="1440.6" text-anchor="middle" font-family="'Noto Sans CJK KR', 'Liberation Sans', sans-serif" font-size="33.5" font-weight="350" fill="#222" letter-spacing="0.8">0.035</text>
<text x="1540.7" y="1501" text-anchor="middle" font-family="'Noto Sans CJK KR', 'Liberation Sans', sans-serif" font-size="33.5" font-weight="350" fill="#222" letter-spacing="0.8">3855</text>
<text x="1540.7" y="1561.4" text-anchor="middle" font-family="'Noto Sans CJK KR', 'Liberation Sans', sans-serif" font-size="33.5" font-weight="350" fill="#222" letter-spacing="0.8">0.035</text>
<text x="1759" y="1319.8" text-anchor="middle" font-family="'Noto Sans CJK KR', 'Liberation Sans', sans-serif" font-size="33.5" font-weight="350" fill="#222">8</text>
<text x="1759.4" y="1380.2" text-anchor="middle" font-family="'Noto Sans CJK KR', 'Liberation Sans', sans-serif" font-size="33.5" font-weight="350" fill="#222" letter-spacing="0.8">4452</text>
<text x="1759.4" y="1440.6" text-anchor="middle" font-family="'Noto Sans CJK KR', 'Liberation Sans', sans-serif" font-size="33.5" font-weight="350" fill="#222" letter-spacing="0.8">0.046</text>
<text x="1759.4" y="1501" text-anchor="middle" font-family="'Noto Sans CJK KR', 'Liberation Sans', sans-serif" font-size="33.5" font-weight="350" fill="#222" letter-spacing="0.8">2200</text>
<text x="1759.4" y="1561.4" text-anchor="middle" font-family="'Noto Sans CJK KR', 'Liberation Sans', sans-serif" font-size="33.5" font-weight="350" fill="#222" letter-spacing="0.8">0.041</text>
<text x="1977.8" y="1319.8" text-anchor="middle" font-family="'Noto Sans CJK KR', 'Liberation Sans', sans-serif" font-size="33.5" font-weight="350" fill="#222">10</text>
<text x="1978.2" y="1380.2" text-anchor="middle" font-family="'Noto Sans CJK KR', 'Liberation Sans', sans-serif" font-size="33.5" font-weight="350" fill="#222" letter-spacing="0.8">2123</text>
<text x="1978.2" y="1440.6" text-anchor="middle" font-family="'Noto Sans CJK KR', 'Liberation Sans', sans-serif" font-size="33.5" font-weight="350" fill="#222" letter-spacing="0.8">0.052</text>
<text x="1978.2" y="1501" text-anchor="middle" font-family="'Noto Sans CJK KR', 'Liberation Sans', sans-serif" font-size="33.5" font-weight="350" fill="#222" letter-spacing="0.8">1080</text>
<text x="1978.2" y="1561.4" text-anchor="middle" font-family="'Noto Sans CJK KR', 'Liberation Sans', sans-serif" font-size="33.5" font-weight="350" fill="#222" letter-spacing="0.8">0.047</text>
<text x="2196" y="1319.8" text-anchor="middle" font-family="'Noto Sans CJK KR', 'Liberation Sans', sans-serif" font-size="33.5" font-weight="350" fill="#222">12</text>
<text x="2196.4" y="1380.2" text-anchor="middle" font-family="'Noto Sans CJK KR', 'Liberation Sans', sans-serif" font-size="33.5" font-weight="350" fill="#222" letter-spacing="0.8">158</text>
<text x="2196.4" y="1440.6" text-anchor="middle" font-family="'Noto Sans CJK KR', 'Liberation Sans', sans-serif" font-size="33.5" font-weight="350" fill="#222" letter-spacing="0.8">0.061</text>
<text x="2196.4" y="1501" text-anchor="middle" font-family="'Noto Sans CJK KR', 'Liberation Sans', sans-serif" font-size="33.5" font-weight="350" fill="#222" letter-spacing="0.8">74</text>
<text x="2196.4" y="1561.4" text-anchor="middle" font-family="'Noto Sans CJK KR', 'Liberation Sans', sans-serif" font-size="33.5" font-weight="350" fill="#222" letter-spacing="0.8">0.059</text>
</g>
<text x="1352.8" y="3537.8" font-family="'Noto Sans CJK KR', 'Liberation Sans', sans-serif" font-size="46" font-weight="400" fill="#1a1a1a" word-spacing="7.7">p-value from Log-rank test = 0.4643</text>
<polyline points="884.1,4360.5 972.8,4360.5 989.1,4355.1 997.3,4340 1021.9,4326.4 1057.4,4319.6 1092.8,4316.9 1103.7,4306 1136.5,4289.6 1174.7,4280 1202,4277.3 1216.4,4267.8 1240.9,4259.6 1309.1,4248.7 1328.2,4237.8 1363.7,4229.6 1418.3,4225.5 1445.6,4217.3 1500.1,4208.6 1540,4204.2 1562.7,4200 1603.7,4186.9 1633.7,4185 1666.4,4175.5 1699.2,4167.8 1734.6,4164.6 1759.2,4156.9 1802.9,4152.3 1843.8,4148.2 1852,4144.1 1881.8,4142.4 1909.1,4139.7 1936.4,4135.9 1955.5,4134.2 1974.6,4127.7 2012.8,4127.7 2037.3,4126.8 2056.5,4123.3 2075.6,4122.2 2091.9,4113.2 2146.5,4113.2 2152,4102.3 2165.6,4102.3 2167,4088.6 2192.9,4088.6" fill="none" stroke="#0000ff" stroke-width="6" stroke-linejoin="round" stroke-linecap="round"/>
<polyline points="884.1,4360.5 972.8,4360.5 989.1,4355.1 997.3,4344.1 1016.4,4331.9 1032.8,4326.4 1049.2,4327 1071,4321.5 1095.6,4316.9 1103.7,4306.8 1117.4,4301.3 1141.9,4291.5 1166.5,4286 1188.3,4286.8 1207.4,4281.4 1212.9,4273.2 1235.5,4265 1268.2,4261.5 1309.1,4254.1 1317.3,4251.4 1328.2,4240.5 1352.8,4236.4 1385.5,4230.9 1431.9,4226.8 1440.1,4221.4 1472.9,4214.6 1511,4209.1 1530,4207.7 1565.5,4205.5 1600.9,4195.9 1622.8,4194.6 1631,4189.1 1699.2,4187.8 1704.6,4182.3 1756.5,4179.6 1761.9,4175.5 1802.9,4172.2 1852,4171.4 1862.9,4167.3 1868.2,4165 1895.5,4164.2 1900.9,4161 1930.9,4160.4 1935,4156 1955.5,4155.5 1958.2,4152.8 1976,4152.8 1980.1,4143.2 2000.5,4141.3 2012.8,4128.8 2128.8,4128.8 2131.5,4097.7 2192.9,4097.7" fill="none" stroke="#ff0000" stroke-width="6" stroke-linejoin="round" stroke-linecap="round"/>
</svg></body></html>
